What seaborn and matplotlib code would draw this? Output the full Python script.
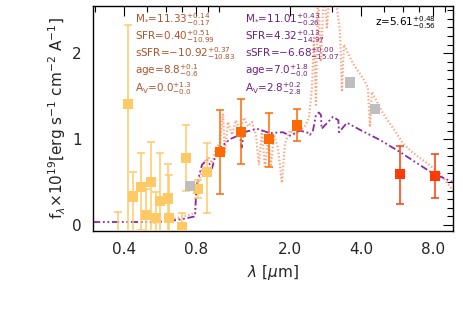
import numpy as np
import pandas as pd
import matplotlib
matplotlib.use("Agg")
import matplotlib.pyplot as plt
import matplotlib.ticker as mticker
import seaborn as sns

sns.set_theme(style="white")
plt.rcParams['font.family'] = ['DejaVu Sans']
plt.rcParams['mathtext.fontset'] = 'dejavusans'

# ---- data ----
# purple model (fit 2)
model2_lam = [0.295, 0.513, 0.605, 0.707, 0.795, 0.806, 0.850, 0.893, 0.938, 0.984, 1.117,
              1.230, 1.250, 1.279, 1.452, 1.647, 1.869, 2.0, 2.204, 2.406, 2.429, 2.501,
              2.575, 2.651, 2.703, 2.72, 3.037, 3.2, 3.22, 3.48, 4.065, 4.795, 5.823,
              6.870, 8.024, 9.748]
model2_f = [0.035, 0.035, 0.04, 0.07, 0.10, 0.45, 0.70, 0.76, 0.66, 0.87, 1.00,
            1.05, 0.90, 1.08, 1.12, 1.07, 1.08, 1.04, 1.10, 1.07, 1.05, 1.10,
            1.28, 1.31, 1.28, 1.12, 1.26, 1.22, 1.08, 1.19, 1.09, 0.99, 0.85,
            0.72, 0.60, 0.50]

# salmon model (fit 1)
model1_lam = [0.513, 0.605, 0.687, 0.757, 0.795, 0.806, 0.834, 0.867, 0.902, 0.938, 0.975,
              1.013, 1.043, 1.063, 1.095, 1.139, 1.184, 1.230, 1.279, 1.330, 1.383, 1.437,
              1.480, 1.524, 1.569, 1.615, 1.663, 1.712, 1.780, 1.850, 1.905, 2.0, 2.10,
              2.204, 2.314, 2.406, 2.477, 2.525, 2.575, 2.625, 2.703, 2.783, 2.865, 2.950,
              3.037, 3.158, 3.251, 3.315, 3.379, 3.689, 4.065, 4.267, 4.352, 4.436, 4.938,
              5.441, 5.996, 6.607, 7.571, 8.591, 9.748]
model1_f = [0.02, 0.05, 0.09, 0.12, 0.14, 0.40, 0.55, 0.72, 0.80, 0.72, 0.90,
            0.95, 1.30, 0.85, 1.20, 1.05, 1.22, 1.10, 1.25, 1.15, 1.20, 1.05,
            0.70, 1.10, 0.66, 1.00, 0.70, 1.05, 0.90, 0.49, 0.95, 1.10, 1.05,
            1.10, 1.15, 1.25, 1.60, 2.20, 1.40, 2.70, 1.90, 2.80, 2.30, 2.80,
            2.60, 2.53, 2.25, 1.57, 2.10, 1.88, 1.71, 1.60, 1.14, 1.55, 1.30,
            1.13, 0.95, 0.84, 0.72, 0.60, 0.40]

# photometry
yel_lam = [0.376, 0.415, 0.435, 0.470, 0.494, 0.518, 0.544, 0.566, 0.611, 0.617, 0.700, 0.728, 0.818, 0.893]
yel_f = [-0.30, 1.41, 0.33, 0.44, 0.12, 0.50, 0.08, 0.28, 0.31, 0.08, -0.03, 0.78, 0.42, 0.62]
yel_lo = [0.30, 1.60, 0.50, 0.50, 0.30, 0.60, 0.30, 0.40, 0.40, 0.30, 0.30, 0.38, 0.10, 0.48]
yel_hi = [0.45, 0.92, 0.29, 0.40, 0.30, 0.47, 0.30, 0.56, 0.40, 0.50, 0.17, 0.38, 0.10, 0.33]

gray_lam = [0.757, 3.58, 4.57]
gray_f = [0.45, 1.66, 1.35]

org_lam = [1.013, 1.242, 1.63, 2.14]
org_f = [0.85, 1.08, 1.00, 1.16]
org_lo = [0.49, 0.37, 0.32, 0.18]
org_hi = [0.49, 0.39, 0.30, 0.19]

red_lam = [5.82, 8.18]
red_f = [0.59, 0.57]
red_lo = [0.35, 0.26]
red_hi = [0.33, 0.26]

xticks = [0.4, 0.8, 2.0, 4.0, 8.0]
xticklabels = ["0.4", "0.8", "2.0", "4.0", "8.0"]

left_txt = [r"M$_{*}$=11.33$^{+0.14}_{-0.17}$", r"SFR=0.40$^{+0.51}_{-10.99}$",
            r"sSFR=$-$10.92$^{+0.37}_{-10.83}$", r"age=8.8$^{+0.1}_{-0.6}$",
            r"A$_{\rm V}$=0.0$^{+1.3}_{-0.0}$"]
right_txt = [r"M$_{*}$=11.01$^{+0.43}_{-0.26}$", r"SFR=4.32$^{+0.13}_{-14.97}$",
             r"sSFR=$-$6.68$^{+0.00}_{-15.07}$", r"age=7.0$^{+1.8}_{-0.0}$",
             r"A$_{\rm V}$=2.8$^{+0.2}_{-2.8}$"]
z_txt = r"z=5.61$^{+0.48}_{-0.56}$"

C_YEL = "#FFCA66"
C_GRAY = "#BEBEBE"
C_ORG = "#FF6A00"
C_RED = "#FF3A0A"
C_SAL = "#FFA27E"
C_PUR = "#8A2BA6"
C_LT = "#B0532C"
C_RT = "#6E1F82"

fig = plt.figure(figsize=(4.63, 3.09), dpi=100)
ax = fig.add_axes([93/463, 1-231/309, 360/463, 225/309])

sns.lineplot(x=model1_lam, y=model1_f, ax=ax, color=C_SAL, lw=1.6, linestyle=(0, (0.6, 1.0)),
             sort=False, estimator=None)
sns.lineplot(x=model2_lam, y=model2_f, ax=ax, color=C_PUR, lw=1.3, linestyle=(0, (4, 1.5, 1, 1.5, 1, 1.5)),
             sort=False, estimator=None)

def pts(lam, f, lo, hi, col):
    ax.errorbar(lam, f, yerr=[lo, hi], fmt='none', ecolor=col, elinewidth=1.1, capsize=3, capthick=1.1, zorder=3)
    sns.scatterplot(x=lam, y=f, ax=ax, color=col, marker='s', s=55, edgecolor='none', zorder=4)

pts(yel_lam, yel_f, yel_lo, yel_hi, C_YEL)
sns.scatterplot(x=gray_lam, y=gray_f, ax=ax, color=C_GRAY, marker='s', s=55, edgecolor='none', zorder=4)
pts(org_lam, org_f, org_lo, org_hi, C_ORG)
pts(red_lam, red_f, red_lo, red_hi, C_RED)

ax.set_xscale('log')
ax.set_xlim(0.295, 9.75)
ax.set_ylim(-0.07, 2.55)
ax.xaxis.set_major_locator(mticker.FixedLocator(xticks))
ax.xaxis.set_major_formatter(mticker.FixedFormatter(xticklabels))
ax.xaxis.set_minor_locator(mticker.LogLocator(base=10, subs=np.arange(1, 10)))
ax.xaxis.set_minor_formatter(mticker.NullFormatter())
ax.yaxis.set_major_locator(mticker.FixedLocator([0, 1, 2]))
ax.yaxis.set_major_formatter(mticker.FixedFormatter(["0", "1", "2"]))
ax.yaxis.set_minor_locator(mticker.MultipleLocator(0.1))
ax.tick_params(which='both', direction='in', top=True, right=True, color='black', width=0.8)
ax.tick_params(which='major', length=7, labelsize=11, pad=8)
ax.tick_params(which='minor', length=4)
for s in ax.spines.values():
    s.set_color('black')
    s.set_linewidth(1.0)

ax.set_xlabel(r"$\lambda$ [$\mu$m]", fontsize=11, labelpad=4)
ax.set_ylabel(r"f$_\lambda$$\times$10$^{19}$[erg s$^{-1}$ cm$^{-2}$ A$^{-1}$]", fontsize=11, labelpad=3)

ys = [20, 37, 54, 71, 89]
for t, y in zip(left_txt, ys):
    fig.text(135/463, 1-y/309, t, color=C_LT, fontsize=7.5, va='center', ha='left')
for t, y in zip(right_txt, ys):
    fig.text(245/463, 1-y/309, t, color=C_RT, fontsize=7.5, va='center', ha='left')
fig.text(375/463, 1-23/309, z_txt, color='black', fontsize=7.5, va='center', ha='left')

fig.savefig("out.png", dpi=100)
